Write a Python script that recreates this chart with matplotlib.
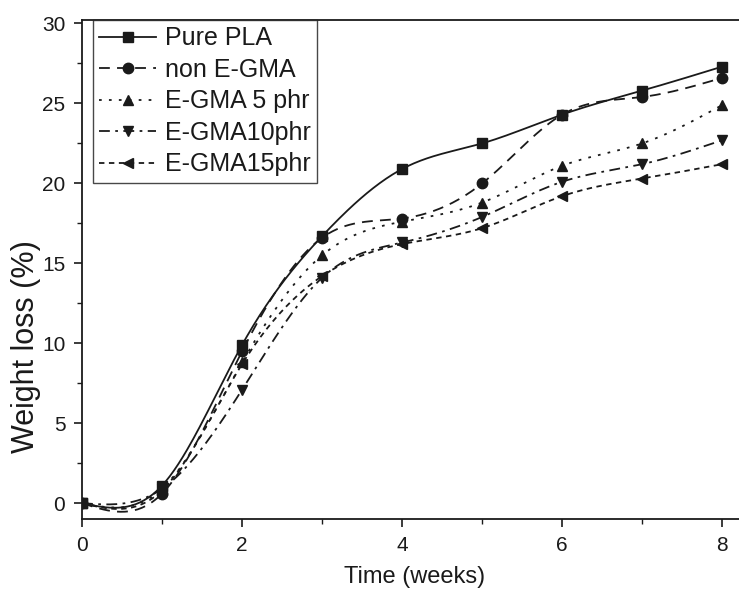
import numpy as np
import matplotlib
matplotlib.use("Agg")
import matplotlib.pyplot as plt
from matplotlib.lines import Line2D

plt.rcParams["font.family"] = ["Liberation Sans", "DejaVu Sans"]

weeks = [0, 1, 2, 3, 4, 5, 6, 7, 8]
pure_pla = [0.0, 1.1, 9.9, 16.7, 20.9, 22.5, 24.3, 25.8, 27.3]
non_egma = [0.0, 0.6, 9.5, 16.6, 17.8, 20.0, 24.3, 25.4, 26.6]
egma_5 = [0.0, 0.9, 8.8, 15.5, 17.6, 18.8, 21.1, 22.5, 24.9]
egma_10 = [0.0, 0.9, 7.1, 14.1, 16.3, 17.9, 20.1, 21.2, 22.7]
egma_15 = [0.0, 0.8, 8.7, 14.2, 16.2, 17.2, 19.2, 20.3, 21.2]

labels = ["Pure PLA", "non E-GMA", "E-GMA 5 phr", "E-GMA10phr", "E-GMA15phr"]
markers = ["s", "o", "^", "v", "<"]
styles = ["-", (0, (6, 4)), (0, (1.5, 4)), (0, (6, 3, 1.5, 3)), (0, (3, 2.5))]


def natural_spline(x, y, n=300):
    """plain natural cubic spline, to draw the smoothed curve"""
    x = np.asarray(x, float)
    y = np.asarray(y, float)
    k = len(x)
    h = np.diff(x)
    A = np.zeros((k, k))
    b = np.zeros(k)
    A[0, 0] = A[-1, -1] = 1
    for i in range(1, k - 1):
        A[i, i - 1] = h[i - 1]
        A[i, i] = 2 * (h[i - 1] + h[i])
        A[i, i + 1] = h[i]
        b[i] = 3 * ((y[i + 1] - y[i]) / h[i] - (y[i] - y[i - 1]) / h[i - 1])
    c = np.linalg.solve(A, b)
    xs = np.linspace(x[0], x[-1], n)
    idx = np.clip(np.searchsorted(x, xs) - 1, 0, k - 2)
    dx = xs - x[idx]
    bb = (y[idx + 1] - y[idx]) / h[idx] - h[idx] * (2 * c[idx] + c[idx + 1]) / 3
    dd = (c[idx + 1] - c[idx]) / (3 * h[idx])
    ys = y[idx] + bb * dx + c[idx] * dx ** 2 + dd * dx ** 3
    return xs, ys


ink = "#1a1a1a"
fig = plt.figure(figsize=(7.39, 5.94), dpi=100)
ax = fig.add_axes([0.111, 0.126, 0.899, 0.840])

handles = []
for vals, lab, m, ls in zip([pure_pla, non_egma, egma_5, egma_10, egma_15], labels, markers, styles):
    xs, ys = natural_spline(weeks, vals)
    ax.plot(xs, ys, color=ink, lw=1.3, linestyle=ls)
    ax.plot(weeks, vals, color=ink, linestyle="none", marker=m, markersize=7.5)
    handles.append(Line2D([], [], color=ink, lw=1.3, linestyle=ls, marker=m, markersize=7.5))

ax.set_xlim(0, 8.3)
ax.set_ylim(-1, 30.2)
ax.set_xticks([0, 2, 4, 6, 8])
ax.set_xticks([1, 3, 5, 7], minor=True)
ax.set_yticks([0, 5, 10, 15, 20, 25, 30])
ax.set_yticks(np.arange(2.5, 30, 5), minor=True)
ax.tick_params(which="major", direction="out", length=6, width=1.2, colors=ink, labelsize=15, pad=6)
ax.tick_params(which="minor", direction="out", length=3.5, width=1.0, colors=ink)
for s in ax.spines.values():
    s.set_color(ink)
    s.set_linewidth(1.3)

ax.set_xlabel("Time (weeks)", fontsize=17, color=ink, labelpad=8)
ax.set_ylabel("Weight loss (%)", fontsize=22, color=ink)
ax.yaxis.set_label_coords(-0.062, 0.345)

leg = ax.legend(handles, labels, loc="upper left", bbox_to_anchor=(0.016, 1.0), fontsize=18,
                frameon=True, fancybox=False, edgecolor=ink, handlelength=2.3,
                handletextpad=0.35, labelspacing=0.3, borderpad=0.25, borderaxespad=0)
leg.get_frame().set_linewidth(1.0)
for t in leg.get_texts():
    t.set_color(ink)

fig.savefig("out.png", dpi=100)
